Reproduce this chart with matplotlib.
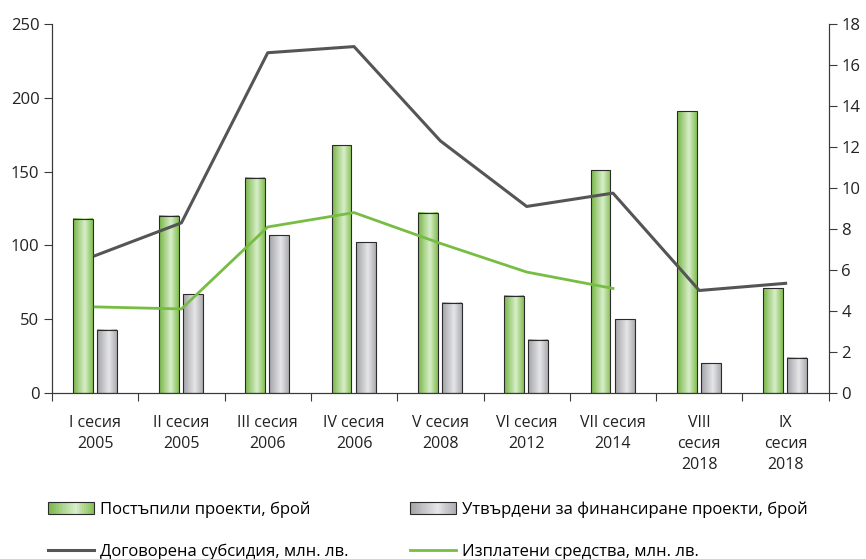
import numpy as np
import matplotlib
matplotlib.use("Agg")
import matplotlib.pyplot as plt
from matplotlib.colors import LinearSegmentedColormap
from matplotlib.patches import Rectangle, Patch
from matplotlib.lines import Line2D
from matplotlib.legend_handler import HandlerBase

# ---------------- data ----------------
sessions = ["I сесия\n2005", "II сесия\n2005", "III сесия\n2006", "IV сесия\n2006",
            "V сесия\n2008", "VI сесия\n2012", "VII сесия\n2014",
            "VIII\nсесия\n2018", "IX\nсесия\n2018"]
received = [118, 120, 146, 168, 122, 66, 151, 191, 71]
approved = [43, 67, 107, 102, 61, 36, 50, 20, 24]
subsidy = [6.7, 8.3, 16.6, 16.9, 12.3, 9.1, 9.75, 5.0, 5.35]
paid = [4.2, 4.1, 8.1, 8.8, 7.3, 5.9, 5.1]

lbl_received = "Постъпили проекти, брой"
lbl_approved = "Утвърдени за финансиране проекти, брой"
lbl_subsidy = "Договорена субсидия, млн. лв."
lbl_paid = "Изплатени средства, млн. лв."

FONT = ["Open Sans", "DejaVu Sans"]

green_cmap = LinearSegmentedColormap.from_list(
    "g", [(0, "#78b646"), (0.6, "#d8eecb"), (1, "#84bf51")])
gray_cmap = LinearSegmentedColormap.from_list(
    "k", [(0, "#a2a3a7"), (0.6, "#e6e6e8"), (1, "#acadb1")])
grad = np.linspace(0, 1, 64).reshape(1, -1)

AXC = "#3a3a3a"


class GradHandler(HandlerBase):
    # legend key drawn as a horizontal gradient box, like the bars
    def __init__(self, cmap):
        super().__init__()
        self.cmap = cmap

    def create_artists(self, legend, orig_handle, xdescent, ydescent,
                       width, height, fontsize, trans):
        n = 24
        arts = []
        for i in range(n):
            r = Rectangle((-xdescent + width * i / n, -ydescent), width / n + 0.3, height,
                          facecolor=self.cmap((i + 0.5) / n), edgecolor="none",
                          transform=trans)
            arts.append(r)
        arts.append(Rectangle((-xdescent, -ydescent), width, height, facecolor="none",
                              edgecolor="#2b2b2b", linewidth=0.8, transform=trans))
        return arts


fig = plt.figure(figsize=(8.66, 5.59), dpi=100)
ax = fig.add_axes([0.060, 0.297, 0.897, 0.660])
x = np.arange(len(sessions)) + 0.5
w = 0.23

def grad_bars(xs, vals, cmap):
    bars = ax.bar(xs, vals, w, facecolor="none", edgecolor="#2b2b2b",
                  linewidth=0.8, zorder=3)
    for b in bars:
        ax.imshow(grad, extent=[b.get_x(), b.get_x() + b.get_width(), 0, b.get_height()],
                  aspect="auto", cmap=cmap, zorder=2, interpolation="bilinear")
    return bars

grad_bars(x - 0.145, received, green_cmap)
grad_bars(x + 0.135, approved, gray_cmap)

ax.set_xlim(0, len(sessions))
ax.set_ylim(0, 250)
ax.set_yticks(range(0, 251, 50))
ax.set_xticks(range(0, len(sessions) + 1))
ax.set_xticklabels([])
ax.set_xticks(x, minor=True)
ax.set_xticklabels(sessions, minor=True, fontfamily=FONT, fontsize=11.5,
                   linespacing=1.45, color="#222222")
ax.tick_params(axis="x", which="major", direction="out", length=6, color=AXC, width=0.8)
ax.tick_params(axis="x", which="minor", length=0, pad=15.5)
ax.tick_params(axis="y", direction="out", length=6, color=AXC, width=0.8,
               labelsize=12, labelcolor="#222222", pad=3)
for t in ax.get_yticklabels():
    t.set_fontfamily(FONT)
ax.spines["top"].set_visible(False)
for s in ["left", "bottom", "right"]:
    ax.spines[s].set_color(AXC)
    ax.spines[s].set_linewidth(0.8)

ax2 = ax.twinx()
ax2.plot(x, subsidy, color="#555555", linewidth=2.2, zorder=4)
ax2.plot(x[:len(paid)], paid, color="#77bd43", linewidth=2.0, zorder=4)
ax2.set_ylim(0, 18)
ax2.set_yticks(range(0, 19, 2))
ax2.tick_params(axis="y", direction="out", length=6, color=AXC, width=0.8,
                labelsize=12, labelcolor="#222222", pad=3)
for t in ax2.get_yticklabels():
    t.set_fontfamily(FONT)
ax2.spines["top"].set_visible(False)
for s in ["left", "bottom", "right"]:
    ax2.spines[s].set_color(AXC)
    ax2.spines[s].set_linewidth(0.8)

h_rec = Patch(label=lbl_received)
h_app = Patch(label=lbl_approved)
h_sub = Line2D([], [], color="#555555", linewidth=2.2, label=lbl_subsidy)
h_paid = Line2D([], [], color="#77bd43", linewidth=2.0, label=lbl_paid)

common = dict(frameon=False, prop={"family": FONT, "size": 12}, handlelength=2.75,
              handleheight=0.7, handletextpad=0.35, labelspacing=1.57, borderpad=0,
              borderaxespad=0, loc="upper left")
fig.legend([h_rec, h_sub], [lbl_received, lbl_subsidy],
           bbox_to_anchor=(48 / 866, 1 - 501 / 559),
           handler_map={h_rec: GradHandler(green_cmap)}, **common)
fig.legend([h_app, h_paid], [lbl_approved, lbl_paid],
           bbox_to_anchor=(410 / 866, 1 - 501 / 559),
           handler_map={h_app: GradHandler(gray_cmap)}, **common)

fig.savefig("out.png", dpi=100)
